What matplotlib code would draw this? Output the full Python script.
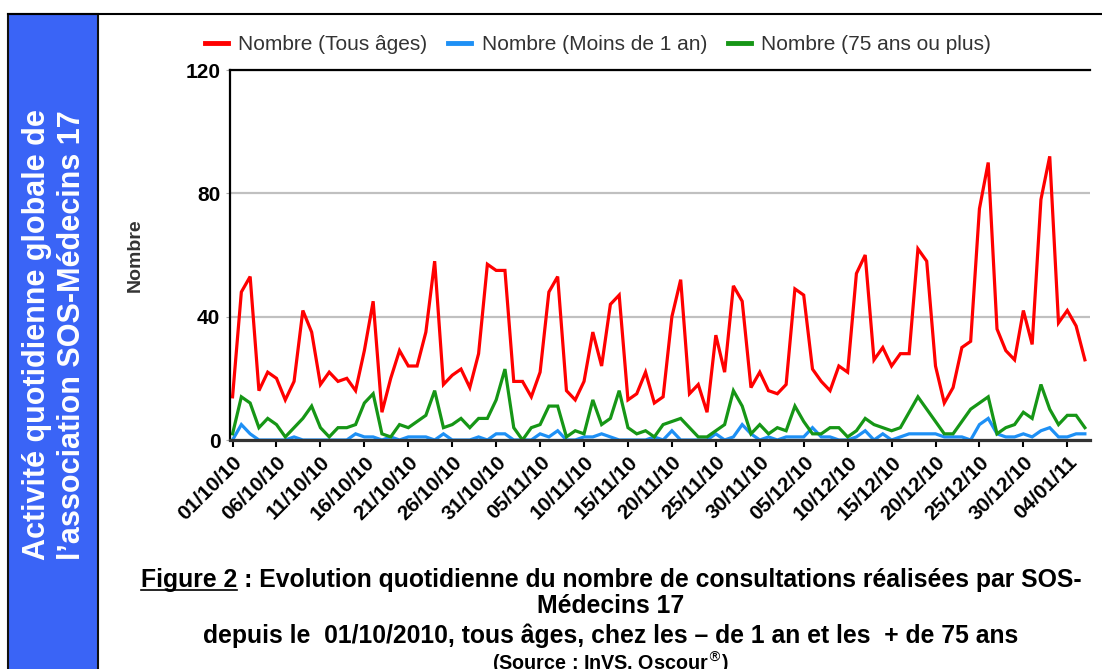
import numpy as np
import pandas as pd
import matplotlib
matplotlib.use('Agg')
import matplotlib.pyplot as plt
from matplotlib.patches import Rectangle
from matplotlib.lines import Line2D

# Daily counts, 01/10/2010 -> 06/01/2011
dates = pd.date_range('2010-10-01', '2011-01-06', freq='D')

tous_ages = [14, 48, 53, 16, 22, 20, 13, 19, 42, 35,
             18, 22, 19, 20, 16, 29, 45, 9, 20, 29,
             24, 24, 35, 58, 18, 21, 23, 17, 28, 57,
             55, 55, 19, 19, 14, 22, 48, 53, 16, 13,
             19, 35, 24, 44, 47, 13, 15, 22, 12, 14,
             40, 52, 15, 18, 9, 34, 22, 50, 45, 17,
             22, 16, 15, 18, 49, 47, 23, 19, 16, 24,
             22, 54, 60, 26, 30, 24, 28, 28, 62, 58,
             24, 12, 17, 30, 32, 75, 90, 36, 29, 26,
             42, 31, 78, 92, 38, 42, 37, 26]

moins_1_an = [0, 5, 2, 0, 0, 0, 0, 1, 0, 0,
              0, 0, 0, 0, 2, 1, 1, 0, 1, 0,
              1, 1, 1, 0, 2, 0, 0, 0, 1, 0,
              2, 2, 0, 0, 0, 2, 1, 3, 0, 0,
              1, 1, 2, 1, 0, 0, 0, 0, 1, 0,
              3, 0, 0, 0, 0, 2, 0, 1, 5, 2,
              0, 1, 0, 1, 1, 1, 4, 1, 1, 0,
              0, 1, 3, 0, 2, 0, 1, 2, 2, 2,
              2, 1, 1, 1, 0, 5, 7, 2, 1, 1,
              2, 1, 3, 4, 1, 1, 2, 2]

plus_75_ans = [2, 14, 12, 4, 7, 5, 1, 4, 7, 11,
               4, 1, 4, 4, 5, 12, 15, 2, 1, 5,
               4, 6, 8, 16, 4, 5, 7, 4, 7, 7,
               13, 23, 4, 0, 4, 5, 11, 11, 1, 3,
               2, 13, 5, 7, 16, 4, 2, 3, 1, 5,
               6, 7, 4, 1, 1, 3, 5, 16, 11, 2,
               5, 2, 4, 3, 11, 6, 2, 2, 4, 4,
               1, 3, 7, 5, 4, 3, 4, 9, 14, 10,
               6, 2, 2, 6, 10, 12, 14, 2, 4, 5,
               9, 7, 18, 10, 5, 8, 8, 4]

series_labels = ['Nombre (Tous âges)', 'Nombre (Moins de 1 an)', 'Nombre (75 ans ou plus)']
series_colors = ['#FF0000', '#1E90F5', '#169616']
y_ticks = [0, 40, 80, 120]

W, H = 1102, 669
fig = plt.figure(figsize=(W / 100, H / 100), dpi=100)
fig.patch.set_facecolor('white')

# outer frame + blue side panel
fig.add_artist(Line2D([8 / W, 1], [1 - 14 / H, 1 - 14 / H], color='black', lw=1.5))
fig.add_artist(Rectangle((8 / W, -0.01), 90 / W, 1 - 14 / H + 0.01, facecolor='#3A64F6',
                         edgecolor='#111111', lw=1.5, transform=fig.transFigure))
fig.text(37 / W, 1 - 335 / H, 'Activité quotidienne globale de', rotation=90, color='white',
         fontsize=22, fontweight='bold', ha='center', va='center', family='Liberation Sans')
fig.text(72 / W, 1 - 335 / H, 'l’association SOS-Médecins 17', rotation=90, color='white',
         fontsize=22, fontweight='bold', ha='center', va='center', family='Liberation Sans')

ax = fig.add_axes([230 / W, 1 - 440 / H, 860 / W, 370 / H])
for vals, col, lab in zip([tous_ages, moins_1_an, plus_75_ans], series_colors, series_labels):
    ax.plot(dates, vals, color=col, lw=2.3, label=lab, solid_joinstyle='miter')

ax.set_ylim(0, 120)
ax.set_xlim(dates[0] - pd.Timedelta(hours=7), dates[-1] + pd.Timedelta(hours=14))
ax.set_yticks(y_ticks)
ax.set_yticklabels([str(v) for v in y_ticks], fontsize=15, fontweight='bold',
                   family='Liberation Sans')
ax.yaxis.grid(True, color='#C0C0C0', lw=1.6)
ax.set_axisbelow(True)
ax.tick_params(axis='y', length=3, color='#AAAAAA', pad=4)

ax.set_xticks(dates[::5])
ax.set_xticklabels([d.strftime('%d/%m/%y') for d in dates[::5]], rotation=45, ha='right',
                   rotation_mode='anchor', fontsize=15, fontweight='bold', family='Liberation Sans')
ax.tick_params(axis='x', length=5, width=1.5, color='black', pad=4, direction='out')

ax.spines['right'].set_visible(False)
ax.spines['top'].set_linewidth(1.6)
ax.spines['left'].set_linewidth(1.6)
ax.spines['bottom'].set_linewidth(2.3)
ax.spines['bottom'].set_color('#333333')

fig.text(135 / W, 1 - 255 / H, 'Nombre', rotation=90, ha='center', va='center',
         fontsize=14, fontweight='bold', color='#333333', family='Liberation Sans')

leg = fig.legend(loc='center', bbox_to_anchor=(598 / W, 1 - 45 / H), ncol=3, frameon=False,
                 prop={'family': 'Liberation Sans', 'size': 15}, handlelength=1.1,
                 handletextpad=0.5, columnspacing=1.0)
for t in leg.get_texts():
    t.set_color('#333333')
for h in leg.legend_handles:
    h.set_linewidth(3.5)

# caption (no Calibri here: shrink the size so the first line keeps its width)
line1 = 'Figure 2 : Evolution quotidienne du nombre de consultations réalisées par SOS-'
cap = dict(family='Liberation Sans', fontweight='bold', fontsize=17, ha='center', va='center')
probe = fig.text(0, 0, line1, **cap)
fig.canvas.draw()
r = fig.canvas.get_renderer()
cap['fontsize'] = 17 * 942 / probe.get_window_extent(r).width
probe.remove()

t1 = fig.text(611 / W, 1 - 580 / H, line1, **cap)
fig.text(611 / W, 1 - 606 / H, 'Médecins 17', **cap)
fig.text(611 / W, 1 - 636 / H,
         'depuis le  01/10/2010, tous âges, chez les – de 1 an et les  + de 75 ans', **cap)
fig.text(611 / W, 1 - 663 / H, '(Source : InVS, Oscour$^{®}$)',
         **dict(cap, fontsize=cap['fontsize'] * 0.8))

# underline "Figure 2"
fig.canvas.draw()
bb = t1.get_window_extent(r)
tmp = fig.text(0, 0, 'Figure 2', **cap)
w = tmp.get_window_extent(r).width
tmp.remove()
fig.add_artist(Line2D([bb.x0 / W, (bb.x0 + w) / W], [(bb.y0 + 2) / H] * 2,
                      color='black', lw=1.2))

fig.savefig('out.png', dpi=100)
